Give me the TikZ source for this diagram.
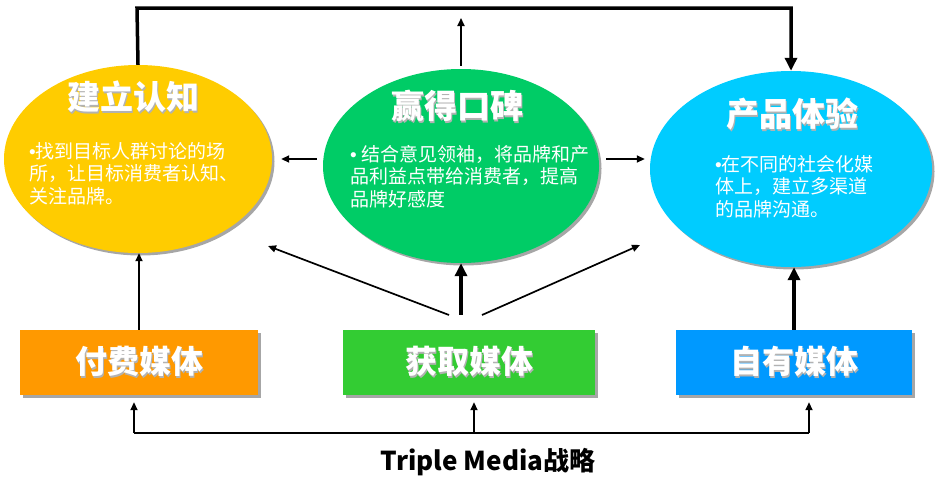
\documentclass[tikz,border=0pt]{standalone}
\usepackage{fontspec}
\setmainfont{Noto Sans CJK SC}
\newfontfamily\bulletfont{Liberation Sans}
\usetikzlibrary{shapes.geometric,arrows.meta,shadows}
\definecolor{renzhicol}{HTML}{FFCC00}
\definecolor{koubeicol}{HTML}{00CC66}
\definecolor{tiyancol}{HTML}{00CCFF}
\definecolor{paidcol}{HTML}{FF9900}
\definecolor{earnedcol}{HTML}{33CC33}
\definecolor{ownedcol}{HTML}{0099FF}
\newcommand{\shadowed}[1]{\makebox[0pt][l]{\hspace{1.8pt}\raisebox{-1.8pt}{\color{black!30}#1}}#1}
\newcommand{\dotitem}{{\bulletfont •}}
\begin{document}
\begin{tikzpicture}[x=1pt,y=-1pt,
  oval/.style={ellipse,inner sep=0pt,drop shadow={shadow xshift=2.5pt,shadow yshift=-2.5pt,fill=black!35,opacity=1}},
  media/.style={rectangle,minimum height=65pt,inner sep=0pt,text=white,font=\bfseries\fontsize{32}{34}\selectfont,drop shadow={shadow xshift=2.5pt,shadow yshift=-2.5pt,fill=black!35,opacity=1}},
  title/.style={text=white,font=\bfseries\fontsize{33}{35}\selectfont,inner sep=0pt},
  body/.style={text=white,font=\fontsize{19}{22.5}\selectfont,align=left,anchor=north west,inner sep=0pt},
  arr/.style={line width=1.7pt,-{Triangle[length=8pt,width=7pt]}},
  bigarr/.style={line width=3.5pt,-{Triangle[length=13pt,width=12pt]}}]
\useasboundingbox (0,0) rectangle (941,493);
\node[oval,fill=renzhicol,minimum width=268pt,minimum height=188pt] (renzhi) at (138,159) {};
\node[oval,fill=koubeicol,minimum width=276pt,minimum height=194pt] (koubei) at (461,166) {};
\node[oval,fill=tiyancol,minimum width=282pt,minimum height=196pt] (tiyan) at (791,169) {};
\node[title] (renzhit) at (133,98) {\shadowed{建立认知}};
\node[title] (koubeit) at (457,107) {\shadowed{赢得口碑}};
\node[title] (tiyant) at (792,115) {\shadowed{产品体验}};
\node[body] (renzhib) at (29,142) {\dotitem 找到目标人群讨论的场\\所，让目标消费者认知、\\关注品牌。};
\node[body] (koubeib) at (350,145) {\dotitem\ 结合意见领袖，将品牌和产\\品利益点带给消费者，提高\\品牌好感度};
\node[body] (tiyanb) at (715,155) {\dotitem 在不同的社会化媒\\体上，建立多渠道\\的品牌沟通。};
\node[media,fill=paidcol,minimum width=238pt] (paid) at (139,362.5) {\shadowed{付费媒体}};
\node[media,fill=earnedcol,minimum width=252pt] (earned) at (469,362.5) {\shadowed{获取媒体}};
\node[media,fill=ownedcol,minimum width=236pt] (owned) at (794,362.5) {\shadowed{自有媒体}};
\node[font=\bfseries\fontsize{26}{28}\selectfont] (strategy) at (488,462) {Triple Media战略};
\coordinate (topleft) at (137,8);
\coordinate (upend) at (463,18);
\coordinate (dl) at (449,315);
\coordinate (dr) at (482,315);
\coordinate (tl) at (268,246);
\coordinate (tr) at (640,245);
\coordinate (bl) at (134,433);
\coordinate (bm) at (474,433);
\coordinate (br) at (809,433);
\draw[bigarr] (renzhi.north) -- (topleft) -| (tiyan.north);
\draw[arr,shorten <=3pt] (koubei.north) -- (koubei.north |- upend);
\draw[arr,shorten <=6pt,shorten >=9pt] (koubei.west |- renzhi) -- (renzhi.east);
\draw[arr,shorten <=7pt,shorten >=5pt] (koubei.east |- renzhi) -- (tiyan.west |- renzhi);
\draw[arr] (paid.north) -- (paid.north |- renzhi.south);
\draw[bigarr,shorten <=15pt] (koubei.south |- earned.north) -- (koubei.south);
\draw[bigarr] (owned.north) -- (owned.north |- tiyan.south);
\draw[arr] (dl) -- (tl);
\draw[arr] (dr) -- (tr);
\draw[line width=1.7pt] (bl) -- (br);
\foreach \c in {bl,bm,br}
  \draw[arr,shorten >=7pt] (\c) -- (\c |- paid.south);
\end{tikzpicture}
\end{document}
